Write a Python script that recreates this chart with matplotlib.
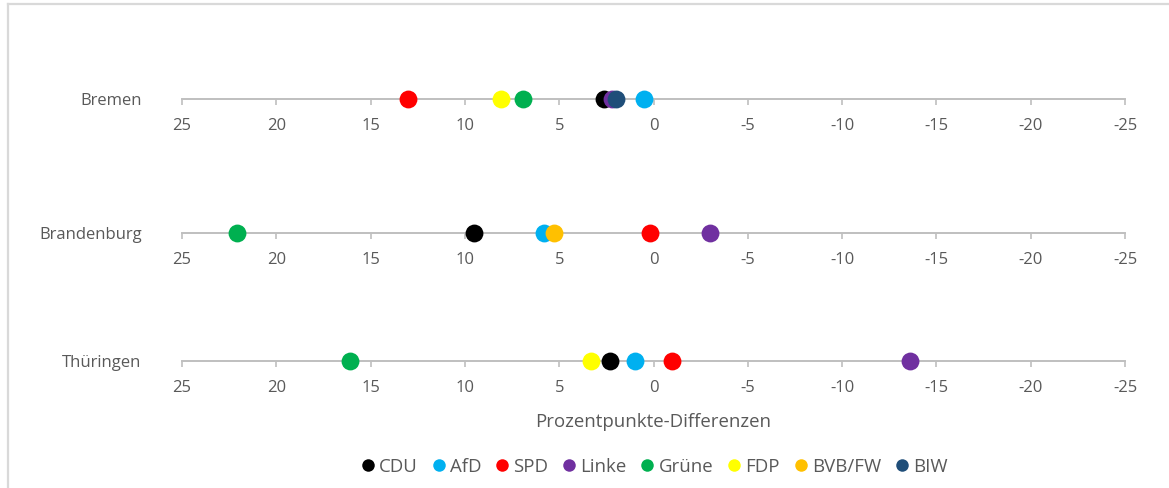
import matplotlib
matplotlib.use("Agg")
import matplotlib.pyplot as plt
from matplotlib.lines import Line2D

plt.rcParams["font.family"] = ["Open Sans", "DejaVu Sans"]
plt.rcParams["axes.unicode_minus"] = False

# Differences in percentage points per state and party (None = party not listed)
states = ["Bremen", "Brandenburg", "Thüringen"]
parties = ["CDU", "AfD", "SPD", "Linke", "Grüne", "FDP", "BVB/FW", "BIW"]
cdu = [2.6, 9.5, 2.3]
afd = [0.5, 5.8, 1.0]
spd = [13.0, 0.2, -1.0]
linke = [2.2, -3.0, -13.6]
gruene = [6.9, 22.1, 16.1]
fdp = [8.1, None, 3.3]
bvb_fw = [None, 5.3, None]
biw = [2.0, None, None]
series = [cdu, afd, spd, linke, gruene, fdp, bvb_fw, biw]
colors = ["#000000", "#00B0F0", "#FF0000", "#7030A0", "#00B050", "#FFFF00", "#FFC000", "#1F4E79"]

tick_values = [25, 20, 15, 10, 5, 0, -5, -10, -15, -20, -25]
tick_labels = ["25", "20", "15", "10", "5", "0", "-5", "-10", "-15", "-20", "-25"]

W, H = 1169, 488
fig = plt.figure(figsize=(W / 100, H / 100), dpi=100)

text_color = "#595959"
axis_color = "#BFBFBF"
font_size = 12
big_size = 13.4

left = 182 / W
width = (1125 - 182) / W
row_lines = [99, 233, 361]  # pixel rows of each axis line
ax_h = 20 / H

axes = []
for i, state in enumerate(states):
    ax = fig.add_axes([left, 1 - row_lines[i] / H, width, ax_h])
    ax.set_xlim(25, -25)
    ax.set_ylim(0, 1)
    for side in ["top", "right", "left"]:
        ax.spines[side].set_visible(False)
    ax.spines["bottom"].set_color(axis_color)
    ax.spines["bottom"].set_linewidth(1.4)
    ax.set_xticks(tick_values)
    ax.set_xticklabels(tick_labels)
    ax.tick_params(axis="x", direction="out", length=4, width=1.2, color=axis_color,
                   labelcolor=text_color, labelsize=font_size, pad=10)
    ax.set_yticks([0])
    ax.set_yticklabels([state])
    ax.tick_params(axis="y", length=0, labelcolor=text_color, labelsize=font_size, pad=29)
    ax.patch.set_alpha(0)
    for p, (vals, col) in enumerate(zip(series, colors)):
        v = vals[i]
        if v is None:
            continue
        ax.scatter([v], [0], s=165, color=col, clip_on=False, zorder=3 + p, linewidths=0)
    axes.append(ax)

axes[-1].set_xlabel("Prozentpunkte-Differenzen", color=text_color, fontsize=big_size,
                    labelpad=12)

handles = []
for name, col in zip(parties, colors):
    handles.append(Line2D([], [], linestyle="none", marker="o", markersize=9,
                          markerfacecolor=col, markeredgewidth=0, label=name))
fig.legend(handles=handles, loc="center", bbox_to_anchor=(655 / W, 1 - 467 / H),
           ncol=len(parties), frameon=False, fontsize=big_size, labelcolor=text_color,
           handlelength=0.6, handletextpad=0.3, columnspacing=0.82, borderpad=0)

# light frame along the top and left edge
frame_color = "#D9D9D9"
fig.add_artist(Line2D([7.5 / W, 1], [1 - 3.5 / H, 1 - 3.5 / H], transform=fig.transFigure,
                      color=frame_color, linewidth=1.6))
fig.add_artist(Line2D([7.5 / W, 7.5 / W], [0, 1 - 3.5 / H], transform=fig.transFigure,
                      color=frame_color, linewidth=1.6))

fig.savefig("out.png", dpi=100, facecolor="white")
